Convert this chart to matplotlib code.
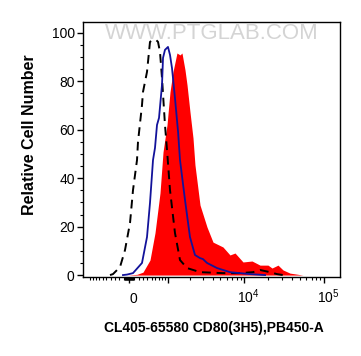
import numpy as np
import matplotlib
matplotlib.use('Agg')
import matplotlib.pyplot as plt
import matplotlib.transforms as mtrans

plt.rcParams['font.family'] = ['Liberation Sans', 'DejaVu Sans']
plt.rcParams['mathtext.default'] = 'regular'

# Sample histogram (filled red), fluorescence values and % of max
sample_x = [-41, 167, 297, 461, 589, 730, 822, 953, 1060, 1173, 1340, 1479, 1576, 1733,
            1846, 2021, 2217, 2352, 2738, 3370, 4020, 5375, 6600, 7640, 9630, 12500,
            15760, 19840, 22300, 26500, 30640, 37480, 54600, 66900]
sample_y = [0, 0.3, 1.2, 6.2, 17.4, 33.9, 50.8, 62, 75.6, 83.9, 91.7, 90.9, 91.7, 84.7,
            78.5, 67.4, 56.6, 45.5, 28.9, 19.8, 13.6, 11.6, 8.3, 9.1, 5.4, 5.8,
            4.1, 4.1, 2.9, 4.1, 2.1, 0.8, 0, 0]

# Isotype control (blue line)
iso_x = [-125, -41, 83, 275, 389, 461, 537, 589, 644, 701, 790, 822, 885, 987, 1060,
         1135, 1255, 1390, 1479, 1733, 2021, 2352, 2738, 2990, 3370, 4520, 6600, 11800, 18230]
iso_y = [0, 0.2, 0.8, 5.0, 15.7, 29.8, 47.5, 52.5, 62, 64.9, 78.5, 89.7, 93, 94.2, 90.9,
         85.5, 73.1, 59.1, 47.5, 31, 15.7, 8.3, 7.0, 6.6, 5.0, 2.9, 1.2, 0.4, 0]

# Unstained control (black dashed line)
blank_x = [-413, -343, -188, -83, 21, 83, 167, 188, 275, 297, 389, 461, 537, 617, 672,
           730, 790, 885, 953, 1060, 1255, 1479, 1846, 2738, 5375, 8830, 12870, 15760,
           21030, 25700, 30640]
blank_y = [0, 0.4, 3.3, 10.3, 21.5, 35.1, 47.5, 55, 70.2, 75.6, 83.9, 96.3, 97.1, 97.1,
           96.3, 92.1, 81.4, 62, 51.7, 35.1, 17.4, 6.2, 2.9, 1.2, 0.8, 0.8, 1.2, 2.1,
           1.2, 0.4, 0]

x_major = [0, 1e3, 1e4, 1e5]
x_major_labels = ['0', '', '$10^4$', '$10^5$']
y_major = [0, 20, 40, 60, 80, 100]

W = 715.0  # linear width of the biexponential-like axis


def fwd(x):
    return np.arcsinh(np.asarray(x, dtype=float) / W)


def inv(u):
    return W * np.sinh(np.asarray(u, dtype=float))


fig = plt.figure(figsize=(3.61, 3.56), dpi=100)
ax = fig.add_axes([83 / 361, 1 - 277 / 356, 257 / 361, 255 / 356])
ax.set_xscale('function', functions=(fwd, inv))

ax.fill_between(sample_x, sample_y, 0, color='#ff0000', linewidth=0, zorder=1)
ax.plot(iso_x, iso_y, color='#12129a', linewidth=1.3, zorder=3)
ax.plot(blank_x, blank_y, color='black', linewidth=1.4, dashes=(4.5, 3), zorder=2)

ax.set_xlim(-1256, 159000)
ax.set_ylim(-0.8, 104.5)

# ticks
minor = []
for k in [10, 100]:
    for m in range(1, 10):
        minor += [-m * k, m * k]
minor += [-1000]
for k in [1e3, 1e4]:
    for m in range(2, 10):
        minor.append(m * k)
ax.set_xticks(x_major)
ax.set_xticklabels(x_major_labels)
ax.set_xticks(minor, minor=True)
ax.set_xticklabels([], minor=True)
ax.set_yticks(y_major)
ax.set_yticks(np.arange(0, 101, 5), minor=True)

ax.tick_params(which='major', length=4.5, width=1, labelsize=10, direction='out')
ax.tick_params(axis='y', which='major', pad=1.5)
ax.tick_params(axis='x', which='major', pad=14.5)
ax.tick_params(which='minor', length=2.3, width=0.8, direction='out')
shift = mtrans.ScaledTranslation(3 / 72, 0, fig.dpi_scale_trans)
for t in ax.xaxis.get_major_ticks():
    t.label1.set_verticalalignment('baseline')
    t.label1.set_transform(t.label1.get_transform() + shift)
for s in ax.spines.values():
    s.set_linewidth(1.0)

ax.set_ylabel('Relative Cell Number', fontsize=11.5, fontweight='bold')
ax.yaxis.set_label_coords(-0.179, 0.559)
ax.set_xlabel('CL405-65580 CD80(3H5),PB450-A', fontsize=10, fontweight='bold')
ax.xaxis.set_label_coords(0.508, -0.171)

# watermark
ax.text(0.5, 0.955, 'WWW.PTGLAB.COM', transform=ax.transAxes, ha='center', va='center',
        fontsize=16, color='#d4d4d4', fontweight='light', zorder=0)

fig.savefig('out.png', dpi=100)
